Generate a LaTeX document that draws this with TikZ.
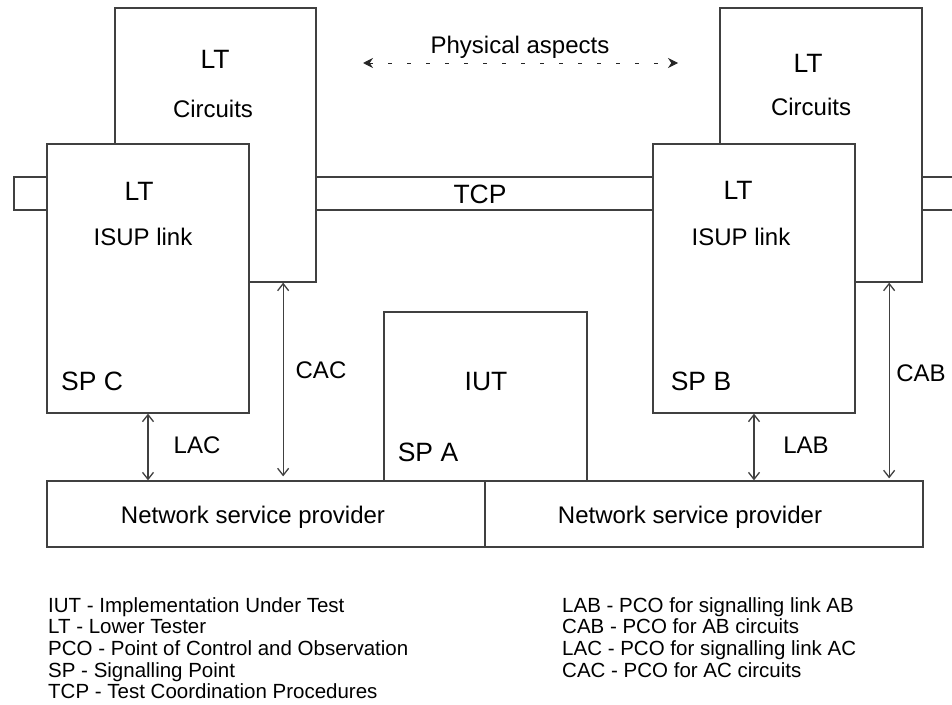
\documentclass[tikz,border=0pt]{standalone}
\usepackage{fontspec}
\setmainfont{Liberation Sans}
\usetikzlibrary{positioning,calc,arrows.meta}

\begin{document}
\begin{tikzpicture}[x=1pt,y=-1pt,
  box/.style={rectangle,draw=black!75,line width=1.3pt,fill=white,inner sep=0pt},
  lbl/.style={font=\fontsize{24}{28}\selectfont,inner sep=0pt,anchor=base},
  biglbl/.style={lbl,font=\fontsize{26.5}{30}\selectfont},
  pco/.style={draw=black!75,line width=1.3pt,{Straight Barb[length=7pt,width=11pt]}-{Straight Barb[length=7pt,width=11pt]}},
  phys/.style={draw=black!85,line width=1pt,dash pattern=on 4pt off 15pt,{Stealth[length=10pt,width=10pt]}-{Stealth[length=10pt,width=10pt]}},
  legend/.style={font=\fontsize{20.5}{21.7}\selectfont,align=left,anchor=north west,inner sep=0pt}]
   \useasboundingbox (0,0) rectangle (952,704);

   % TCP bar runs behind the testers
   \node[box,minimum width=956pt,minimum height=33pt] (tcp) at (492,193.5) {};
   \node[biglbl] (tcplbl) at (480,203) {TCP};

   % lower testers, side C
   \node[box,minimum width=201pt,minimum height=274pt] (circc) at (215.5,145) {};
   \node[box,minimum width=202pt,minimum height=269pt] (ispc) at (148,278.5) {};
   % lower testers, side B
   \node[box,minimum width=202pt,minimum height=274pt] (circb) at (821,145) {};
   \node[box,minimum width=202pt,minimum height=269pt] (ispb) at (754,278.5) {};
   % IUT and network
   \node[box,minimum width=203pt,minimum height=169pt] (iut) at (485.5,396.5) {};
   \node[box,minimum width=438pt,minimum height=66pt] (nspc) at (266,514) {};
   \node[box,minimum width=438pt,minimum height=66pt] (nspb) at (704,514) {};

   \node[biglbl] (ltcc) at (215,68) {LT};
   \node[lbl] (circctxt) at (213,117) {Circuits};
   \node[biglbl] (ltic) at (139,200) {LT};
   \node[lbl] (isupctxt) at (143,245) {ISUP link};
   \node[biglbl] (spc) at (92,390) {SP C};
   \node[biglbl] (ltcb) at (808,72) {LT};
   \node[lbl] (circbtxt) at (811,115) {Circuits};
   \node[biglbl] (ltib) at (738,199) {LT};
   \node[lbl] (isupbtxt) at (741,245) {ISUP link};
   \node[biglbl] (spb) at (701,390) {SP B};
   \node[biglbl] (iuttxt) at (486,390) {IUT};
   \node[biglbl] (spa) at (428,461) {SP A};
   \node[lbl] (nspctxt) at (253,523) {Network service provider};
   \node[lbl] (nspbtxt) at (690,523) {Network service provider};

   % points of control and observation
   \coordinate (cac) at ($(ispc.east |- circc.south)!0.5!(circc.south east)$);
   \coordinate (cab) at ($(ispb.east |- circb.south)!0.5!(circb.south east)$);
   \draw[pco] (ispc.south) -- (ispc.south |- nspc.north);
   \draw[pco,shorten >=4pt] (cac) -- (cac |- nspc.north);
   \draw[pco] (ispb.south) -- (ispb.south |- nspb.north);
   \draw[pco,shorten >=2pt] (cab) -- (cab |- nspb.north);
   \node[lbl] (lac) at (197,453) {LAC};
   \node[lbl] (caclbl) at (321,378) {CAC};
   \node[lbl] (lab) at (806,453) {LAB};
   \node[lbl] (cablbl) at (921,381) {CAB};

   % physical aspects
   \coordinate (physl) at (363,63);
   \coordinate (physr) at (678,63);
   \draw[phys] (physl) -- (physr);
   \node[lbl] (physlbl) at (520,53) {Physical aspects};

   % legend
   \node[legend] (legl) at (48,597) {IUT - Implementation Under Test\\LT - Lower Tester\\PCO - Point of Control and Observation\\SP - Signalling Point\\TCP - Test Coordination Procedures};
   \node[legend] (legr) at (562,597) {LAB - PCO for signalling link AB\\CAB - PCO for AB circuits\\LAC - PCO for signalling link AC\\CAC - PCO for AC circuits};
\end{tikzpicture}
\end{document}
